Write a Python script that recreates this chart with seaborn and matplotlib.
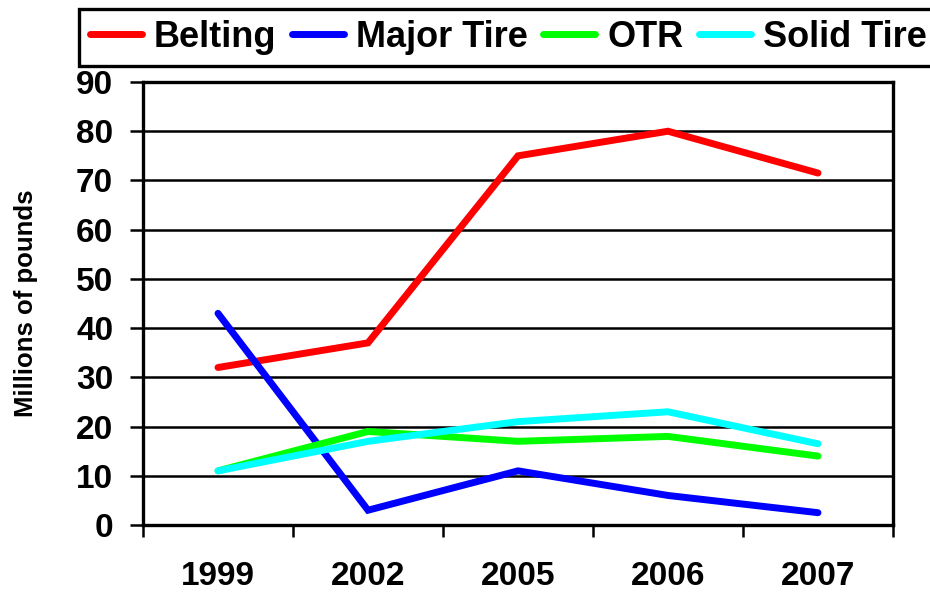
import matplotlib
matplotlib.use("Agg")
import matplotlib.pyplot as plt
import seaborn as sns
import pandas as pd
from matplotlib.ticker import FixedLocator, NullFormatter, FixedFormatter
from matplotlib.lines import Line2D

years = ["1999", "2002", "2005", "2006", "2007"]
belting = [32, 37, 75, 80, 71.5]
major_tire = [43, 3, 11, 6, 2.5]
otr = [11, 19, 17, 18, 14]
solid_tire = [11, 17, 21, 23, 16.5]
series_names = ["Belting", "Major Tire", "OTR", "Solid Tire"]
colors = ["#FF0000", "#0000FF", "#00FF00", "#00FFFF"]
y_ticks = [0, 10, 20, 30, 40, 50, 60, 70, 80, 90]

sns.set_style("white")
plt.rcParams['font.family'] = ['Liberation Sans', 'DejaVu Sans']
plt.rcParams['font.weight'] = 'bold'
for k in ['text.color', 'axes.labelcolor', 'xtick.color', 'ytick.color']:
    plt.rcParams[k] = 'black'

rows = []
for name, vals in zip(series_names, [belting, major_tire, otr, solid_tire]):
    for i, (yr, v) in enumerate(zip(years, vals)):
        rows.append({"pos": i, "year": yr, "value": v, "series": name})
df = pd.DataFrame(rows)

fig = plt.figure(figsize=(9.3, 5.93), dpi=100)
ax = fig.add_axes([143/930, 1-525/593, 750/930, 443/593])

LW = 5.0
sns.lineplot(data=df, x="pos", y="value", hue="series", hue_order=series_names,
             palette=colors, linewidth=LW, ax=ax, legend=False,
             solid_capstyle="round", solid_joinstyle="miter", sort=False)

ax.set_xlim(-0.5, len(years) - 0.5)
ax.set_ylim(0, 90)
ax.set_yticks(y_ticks)
ax.set_yticklabels([str(t) for t in y_ticks], fontsize=24, fontweight='bold')
ax.tick_params(axis='y', direction='out', length=9.5, width=1.8, pad=12, left=True)

ax.xaxis.set_major_locator(FixedLocator([i - 0.5 for i in range(len(years) + 1)]))
ax.xaxis.set_major_formatter(NullFormatter())
ax.xaxis.set_minor_locator(FixedLocator(list(range(len(years)))))
ax.xaxis.set_minor_formatter(FixedFormatter(years))
ax.tick_params(axis='x', which='major', direction='out', length=8.6, width=1.8, bottom=True)
ax.tick_params(axis='x', which='minor', length=0, pad=26, labelsize=24)
for lbl in ax.get_xticklabels(minor=True):
    lbl.set_fontweight('bold')

ax.grid(True, axis='y', color='black', linewidth=1.8)
ax.set_axisbelow(True)
for s in ax.spines.values():
    s.set_visible(True)
    s.set_color('black')
    s.set_linewidth(2.4)

ax.set_xlabel("")
ax.set_ylabel("Millions of pounds", fontsize=18.5, fontweight='bold')
ax.yaxis.set_label_coords((38 - 143) / 750, 0.5)

handles = [Line2D([0], [0], color=c, linewidth=LW, solid_capstyle='round') for c in colors]
leg = fig.legend(handles, series_names, loc='upper left',
                 bbox_to_anchor=(79/930, 1 - 9/593), ncol=4,
                 prop={'family': 'Liberation Sans', 'weight': 'bold', 'size': 26},
                 handlelength=1.45, handletextpad=0.33, columnspacing=0.42,
                 borderpad=0.3, borderaxespad=0, frameon=True, fancybox=False,
                 framealpha=1.0)
leg.get_frame().set_edgecolor('black')
leg.get_frame().set_linewidth(2.4)

fig.savefig("out.png", dpi=100)
